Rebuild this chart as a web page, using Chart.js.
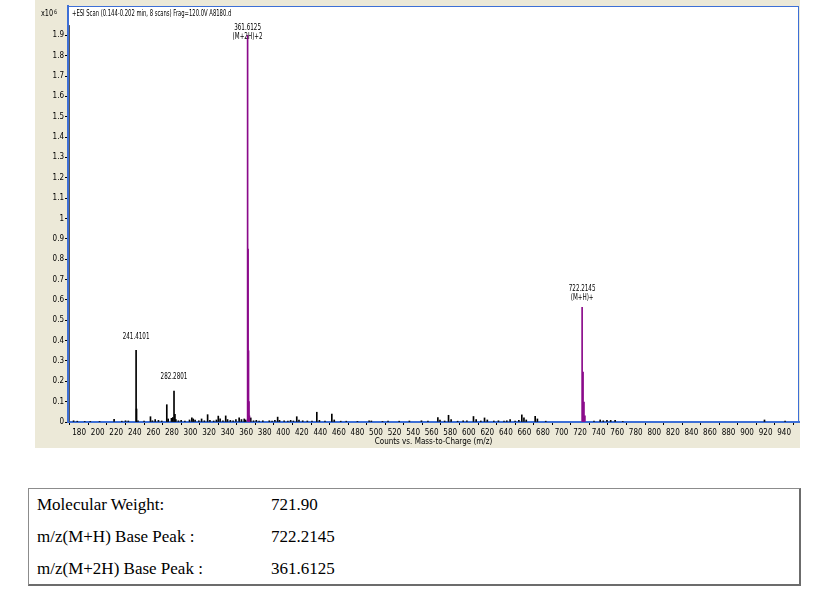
<!DOCTYPE html>
<html>
<head>
<meta charset="utf-8">
<script src="https://cdn.jsdelivr.net/npm/chart.js@4.4.0/dist/chart.umd.min.js"></script>
<style>
  body { margin:0; background:#fff; width:822px; height:608px; position:relative; overflow:hidden; }
  #wrap { position:absolute; left:35px; top:0; width:765px; height:448px; background:#ECE9D8; }
  #info { position:absolute; left:28px; top:488px; width:770px; height:95px;
          border:1px solid #8c8c8c; border-right:2px solid #6c6c6c; border-bottom:2px solid #6c6c6c;
          font-family:"Liberation Serif","Times New Roman",serif; font-size:17px; color:#000; }
  #info div { position:absolute; line-height:19px; white-space:nowrap; }
</style>
</head>
<body>
<div id="wrap"><canvas id="ms" width="765" height="448"></canvas></div>
<div id="info"></div>
<script>
// --- DATA (intensities in x10^6 counts) ---
// labelled black peaks + small noise peaks
const lowMz  = [241.4101, 282.2801, 174, 178, 186, 192, 202, 217.7, 226, 230, 233, 241.9, 243.5, 250, 256.9, 259, 262, 265.5, 269,
  274.5, 276, 279.5, 281, 283.3, 284.3, 287, 290, 294, 299, 301.5, 303, 305, 309, 312, 315, 318.5, 321, 325, 328, 330, 332, 335,
  338, 340, 343, 346, 349, 352.5, 355, 358, 359.5, 365, 368, 371, 374, 378, 385, 388, 391, 394, 396, 401, 405, 408, 411, 414.6,
  417, 421, 426, 431, 436.2, 439, 445, 452.4, 455, 462, 468, 480, 492.6, 495, 507, 513, 525, 536, 549, 556, 566.7, 569, 574,
  578.2, 581, 588, 594, 598, 605.1, 608, 613, 617, 620, 627, 632, 638, 641, 644.6, 650, 654, 657.2, 659.5, 662, 671.6, 674, 683,
  735, 741.7, 745, 749, 753, 757.8, 766, 918.8, 941];
const lowInt = [0.352, 0.152, 0.006, 0.004, 0.003, 0.003, 0.002, 0.013, 0.004, 0.006, 0.005, 0.064, 0.006, 0.004, 0.026, 0.006, 0.012, 0.008, 0.005,
  0.085, 0.015, 0.018, 0.022, 0.038, 0.012, 0.006, 0.008, 0.005, 0.010, 0.020, 0.015, 0.010, 0.006, 0.015, 0.006, 0.036, 0.008, 0.005, 0.010, 0.029, 0.015, 0.006,
  0.030, 0.012, 0.008, 0.006, 0.012, 0.020, 0.012, 0.015, 0.010, 0.020, 0.006, 0.008, 0.005, 0.006, 0.006, 0.004, 0.008, 0.024, 0.008, 0.006, 0.004, 0.008, 0.005, 0.026,
  0.010, 0.006, 0.005, 0.004, 0.048, 0.008, 0.004, 0.039, 0.010, 0.004, 0.004, 0.003, 0.006, 0.005, 0.003, 0.005, 0.004, 0.005, 0.006, 0.004, 0.022, 0.010, 0.005,
  0.033, 0.012, 0.004, 0.006, 0.006, 0.027, 0.012, 0.005, 0.020, 0.010, 0.005, 0.006, 0.004, 0.006, 0.012, 0.005, 0.008, 0.035, 0.020, 0.010, 0.028, 0.015, 0.004,
  0.005, 0.010, 0.006, 0.008, 0.008, 0.008, 0.003, 0.010, 0.005];
// isotope clusters of (M+2H)+2 and (M+H)+
const isoMz  = [361.6125, 362.11, 362.61, 363.11, 363.61, 722.2145, 723.22, 724.22, 725.22];
const isoInt = [1.90, 0.85, 0.35, 0.10, 0.03, 0.564, 0.245, 0.098, 0.03];

const peakLabelMz = [361.6125, 722.2145, 241.4101, 282.2801];
const peakLabelInt = [1.90, 0.564, 0.352, 0.152];
const peakLabelText = [['361.6125', '(M+2H)+2'], ['722.2145', '(M+H)+'], ['241.4101'], ['282.2801']];

const xTicks = [180, 200, 220, 240, 260, 280, 300, 320, 340, 360, 380, 400, 420, 440, 460, 480, 500, 520, 540, 560,
  580, 600, 620, 640, 660, 680, 700, 720, 740, 760, 780, 800, 820, 840, 860, 880, 900, 920, 940];
const yTicks = [0, 0.1, 0.2, 0.3, 0.4, 0.5, 0.6, 0.7, 0.8, 0.9, 1, 1.1, 1.2, 1.3, 1.4, 1.5, 1.6, 1.7, 1.8, 1.9];
const yTickLabels = ['0', '0.1', '0.2', '0.3', '0.4', '0.5', '0.6', '0.7', '0.8', '0.9', '1', '1.1', '1.2', '1.3', '1.4', '1.5', '1.6', '1.7', '1.8', '1.9'];

const scanTitle = '+ESI Scan (0.144-0.202 min, 8 scans) Frag=120.0V A8180.d';
const infoRows = [['Molecular Weight:', '721.90'], ['m/z(M+H) Base Peak :', '722.2145'], ['m/z(M+2H) Base Peak :', '361.6125']];

// --- STYLE ---
const NARROW = '"Liberation Sans Narrow","Arial Narrow","DejaVu Sans Condensed",sans-serif';
const FRAME = '#3d6fd6';
const labelGap = [-2, 9, 13, 14]; // px between peak top and last label line

// info table
const info = document.getElementById('info');
infoRows.forEach((r, i) => {
  const top = 6 + i * 32;
  info.insertAdjacentHTML('beforeend',
    `<div style="left:8px;top:${top}px">${r[0]}</div><div style="left:242px;top:${top}px">${r[1]}</div>`);
});

const pts = (xs, ys) => xs.map((x, i) => ({ x: x, y: ys[i] }));

// squeezed text, the instrument software uses a very condensed font
function narrowText(c, t, x, y, align, sx) {
  c.save();
  c.translate(x, y);
  c.scale(sx, 1);
  c.textAlign = align;
  c.fillText(t, 0, 0);
  c.restore();
}

const plotBg = {
  id: 'plotBg',
  beforeDraw(chart) {
    const a = chart.chartArea, c = chart.ctx;
    c.save();
    c.fillStyle = '#fff';
    c.fillRect(a.left, a.top, a.right - a.left, a.bottom - a.top);
    c.restore();
  }
};

const decor = {
  id: 'decor',
  afterDraw(chart) {
    const a = chart.chartArea, c = chart.ctx;
    const xs = chart.scales.x, ys = chart.scales.y;
    c.save();
    // frame
    c.strokeStyle = FRAME; c.lineWidth = 1;
    c.strokeRect(a.left + 0.5, a.top + 0.5, a.right - a.left - 1, a.bottom - a.top);
    // inner dark line of y axis
    c.strokeStyle = '#555';
    c.beginPath(); c.moveTo(a.left + 1.5, ys.getPixelForValue(1.95)); c.lineTo(a.left + 1.5, a.bottom); c.stroke();
    // scan title
    c.fillStyle = '#000';
    c.textBaseline = 'middle';
    c.font = '8px ' + NARROW;
    narrowText(c, scanTitle, a.left + 4, a.top + 8, 'left', 0.73);
    // x10^6
    c.font = '6px ' + NARROW;
    narrowText(c, '6', a.left - 11, a.top + 6, 'right', 0.9);
    c.font = '8px ' + NARROW;
    narrowText(c, 'x10', a.left - 15, a.top + 8, 'right', 0.9);
    // peak labels
    c.font = '8px ' + NARROW;
    peakLabelMz.forEach((mz, i) => {
      const px = xs.getPixelForValue(mz);
      const py = ys.getPixelForValue(peakLabelInt[i]) - labelGap[i];
      const lines = peakLabelText[i];
      lines.forEach((t, j) => narrowText(c, t, px, py - (lines.length - 1 - j) * 9.5, 'center', 0.78));
    });
    c.restore();
  }
};

const tickFont = { family: NARROW, size: 8 };

new Chart(document.getElementById('ms'), {
  type: 'bar',
  data: {
    datasets: [
      { data: pts(isoMz, isoInt), backgroundColor: '#8a0a8a', barThickness: 1, grouped: false, order: 1 },
      { data: pts(lowMz, lowInt), backgroundColor: '#000', barThickness: 1, grouped: false, order: 2 }
    ]
  },
  options: {
    responsive: false,
    devicePixelRatio: 1,
    animation: false,
    layout: { padding: { top: 6, right: 1, left: 0, bottom: 0 } },
    plugins: { legend: { display: false }, tooltip: { enabled: false } },
    scales: {
      x: {
        type: 'linear', min: 168, max: 956, offset: false,
        afterBuildTicks: ax => { ax.ticks = xTicks.map(v => ({ value: v })); },
        afterFit: ax => { ax.height = 26; },
        ticks: { autoSkip: false, maxRotation: 0, color: '#000', font: tickFont, padding: 3, callback: v => String(v) },
        grid: { display: true, drawOnChartArea: false, drawTicks: true, tickLength: 3, color: '#000' },
        border: { display: true, color: FRAME, width: 2 },
        title: { display: true, text: 'Counts vs. Mass-to-Charge (m/z)', color: '#000', font: tickFont, padding: { top: 0, bottom: 1 } }
      },
      y: {
        min: 0, max: 2.044,
        afterBuildTicks: ax => { ax.ticks = yTicks.map(v => ({ value: v })); },
        afterFit: ax => { ax.width = 33; },
        ticks: { autoSkip: false, color: '#000', font: tickFont, padding: 1,
                 callback: (v, i) => yTickLabels[i] },
        grid: { display: true, drawOnChartArea: false, drawTicks: true, tickLength: 3, color: '#000' },
        border: { display: true, color: FRAME, width: 2 }
      }
    }
  },
  plugins: [plotBg, decor]
});
</script>
</body>
</html>
